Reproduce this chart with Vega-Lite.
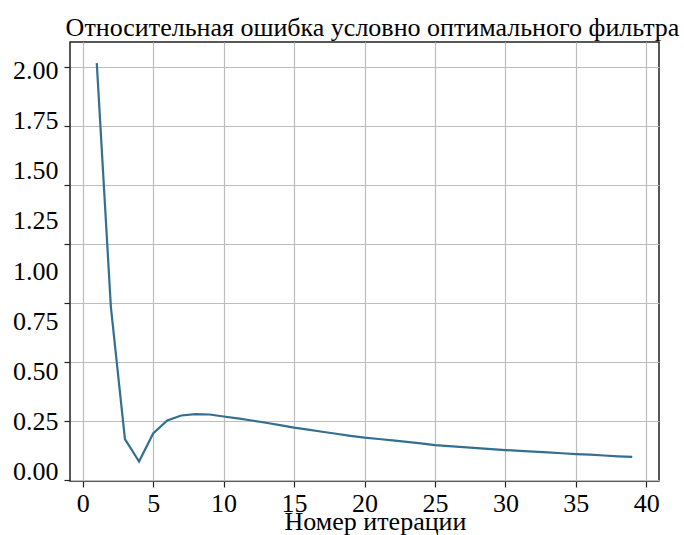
{
  "$schema": "https://vega.github.io/schema/vega-lite/v6.json",
  "width": 589,
  "height": 439,
  "autosize": "none",
  "padding": {"left": 70, "top": 42, "right": 25, "bottom": 54},
  "background": "white",
  "config": {"view": {"stroke": "#222222", "strokeWidth": 1.5}},
  "title": {
    "text": "Относительная ошибка условно оптимального фильтра",
    "font": "Liberation Serif",
    "fontSize": 26,
    "fontWeight": "normal",
    "color": "black",
    "anchor": "middle",
    "dx": 8,
    "dy": 26,
    "baseline": "alphabetic",
    "offset": 6
  },
  "data": {
    "values": [
      {"iteration": 1, "error": 2.035},
      {"iteration": 2, "error": 0.822},
      {"iteration": 3, "error": 0.163},
      {"iteration": 4, "error": 0.052},
      {"iteration": 5, "error": 0.192},
      {"iteration": 6, "error": 0.256},
      {"iteration": 7, "error": 0.281},
      {"iteration": 8, "error": 0.288},
      {"iteration": 9, "error": 0.286},
      {"iteration": 10, "error": 0.276},
      {"iteration": 11, "error": 0.267},
      {"iteration": 12, "error": 0.256},
      {"iteration": 13, "error": 0.245},
      {"iteration": 14, "error": 0.233},
      {"iteration": 15, "error": 0.221},
      {"iteration": 16, "error": 0.211},
      {"iteration": 17, "error": 0.2},
      {"iteration": 18, "error": 0.19},
      {"iteration": 19, "error": 0.18},
      {"iteration": 20, "error": 0.171},
      {"iteration": 21, "error": 0.164},
      {"iteration": 22, "error": 0.157},
      {"iteration": 23, "error": 0.15},
      {"iteration": 24, "error": 0.142},
      {"iteration": 25, "error": 0.134},
      {"iteration": 26, "error": 0.129},
      {"iteration": 27, "error": 0.124},
      {"iteration": 28, "error": 0.119},
      {"iteration": 29, "error": 0.114},
      {"iteration": 30, "error": 0.109},
      {"iteration": 31, "error": 0.105},
      {"iteration": 32, "error": 0.101},
      {"iteration": 33, "error": 0.097},
      {"iteration": 34, "error": 0.093},
      {"iteration": 35, "error": 0.089},
      {"iteration": 36, "error": 0.086},
      {"iteration": 37, "error": 0.082},
      {"iteration": 38, "error": 0.078},
      {"iteration": 39, "error": 0.075}
    ]
  },
  "encoding": {
    "x": {
      "field": "iteration",
      "type": "quantitative",
      "scale": {"domain": [-0.9, 40.9], "nice": false, "zero": false},
      "axis": {
        "values": [0, 5, 10, 15, 20, 25, 30, 35, 40],
        "format": "d",
        "grid": true,
        "gridColor": "#bdbdbd",
        "gridWidth": 1.2,
        "gridOpacity": 1,
        "domain": false,
        "ticks": true,
        "tickSize": 6,
        "tickColor": "#222222",
        "tickWidth": 1.2,
        "labelPadding": 3,
        "labelFont": "Liberation Serif",
        "labelFontSize": 26,
        "labelColor": "black",
        "labelOverlap": false,
        "labelFlush": false,
        "title": "Номер итерации",
        "titleFont": "Liberation Serif",
        "titleFontSize": 26,
        "titleFontWeight": "normal",
        "titleColor": "black",
        "titleX": 305,
        "titleY": 48,
        "titleBaseline": "alphabetic"
      }
    }
  },
  "layer": [
    {
      "mark": {"type": "line", "color": "#336f8f", "strokeWidth": 2.2},
      "encoding": {
        "y": {
          "field": "error",
          "type": "quantitative",
          "scale": {"domain": [-0.045, 2.14], "nice": false, "zero": false},
          "axis": {
            "orient": "left",
            "values": [2.015, 1.7215, 1.428, 1.1345, 0.841, 0.5475, 0.254, -0.0395],
            "labels": false,
            "grid": true,
            "gridColor": "#bdbdbd",
            "gridWidth": 1.2,
            "gridOpacity": 1,
            "domain": false,
            "ticks": true,
            "tickSize": 6,
            "tickColor": "#222222",
            "tickWidth": 1.2,
            "title": null
          }
        }
      }
    },
    {
      "mark": {"type": "point", "opacity": 0},
      "encoding": {
        "y": {
          "field": "error",
          "type": "quantitative",
          "scale": {"domain": [-0.045, 2.14], "nice": false, "zero": false},
          "axis": {
            "orient": "left",
            "values": [0, 0.25, 0.5, 0.75, 1, 1.25, 1.5, 1.75, 2],
            "format": ".2f",
            "grid": false,
            "domain": false,
            "ticks": false,
            "labelPadding": 12,
            "labelFont": "Liberation Serif",
            "labelFontSize": 26,
            "labelColor": "black",
            "labelOverlap": false,
            "labelFlush": false,
            "title": null
          }
        }
      }
    }
  ],
  "resolve": {"scale": {"y": "independent"}, "axis": {"y": "independent"}}
}
